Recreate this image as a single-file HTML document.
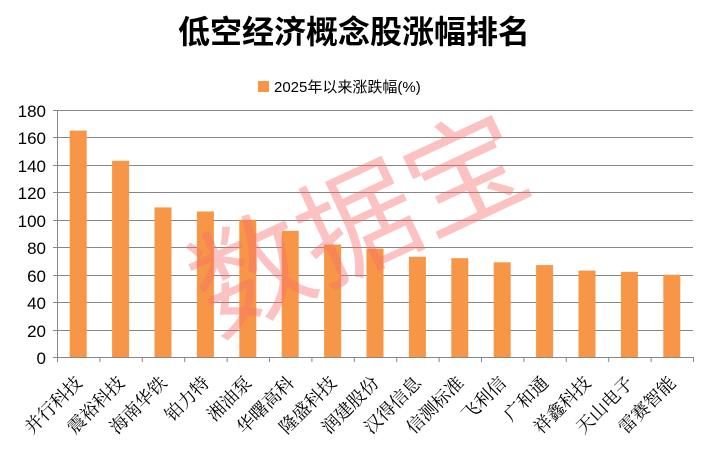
<!DOCTYPE html>
<html><head><meta charset="utf-8"><style>
body{margin:0;background:#fff;}
svg{display:block}
</style></head><body>
<svg width="708" height="460" xmlns="http://www.w3.org/2000/svg">
<text x="354" y="43" text-anchor="middle" font-family="'Liberation Sans','Noto Sans CJK SC',sans-serif" font-size="32" font-weight="bold" fill="#000">低空经济概念股涨幅排名</text>
<rect x="258" y="81" width="11" height="11" fill="#F79646"/>
<text x="274" y="92" font-family="'Liberation Sans','Noto Sans CJK SC',sans-serif" font-size="15" fill="#000">2025年以来涨跌幅(%)</text>
<g stroke="#868686" stroke-width="1">
<line x1="53" y1="110.5" x2="693" y2="110.5"/>
<line x1="53" y1="137.5" x2="693" y2="137.5"/>
<line x1="53" y1="165.5" x2="693" y2="165.5"/>
<line x1="53" y1="192.5" x2="693" y2="192.5"/>
<line x1="53" y1="220.5" x2="693" y2="220.5"/>
<line x1="53" y1="247.5" x2="693" y2="247.5"/>
<line x1="53" y1="275.5" x2="693" y2="275.5"/>
<line x1="53" y1="302.5" x2="693" y2="302.5"/>
<line x1="53" y1="330.5" x2="693" y2="330.5"/>
<line x1="53" y1="357.5" x2="693" y2="357.5"/>
<line x1="57.5" y1="110" x2="57.5" y2="362"/>
<line x1="99.9" y1="357" x2="99.9" y2="362"/><line x1="142.3" y1="357" x2="142.3" y2="362"/><line x1="184.7" y1="357" x2="184.7" y2="362"/><line x1="227.1" y1="357" x2="227.1" y2="362"/><line x1="269.5" y1="357" x2="269.5" y2="362"/><line x1="311.9" y1="357" x2="311.9" y2="362"/><line x1="354.3" y1="357" x2="354.3" y2="362"/><line x1="396.7" y1="357" x2="396.7" y2="362"/><line x1="439.1" y1="357" x2="439.1" y2="362"/><line x1="481.5" y1="357" x2="481.5" y2="362"/><line x1="523.9" y1="357" x2="523.9" y2="362"/><line x1="566.3" y1="357" x2="566.3" y2="362"/><line x1="608.7" y1="357" x2="608.7" y2="362"/><line x1="651.1" y1="357" x2="651.1" y2="362"/><line x1="693.5" y1="357" x2="693.5" y2="362"/>
</g>
<g font-family="'Liberation Sans',sans-serif" font-size="17" fill="#000" text-anchor="end">
<text x="46" y="117">180</text><text x="46" y="144">160</text><text x="46" y="172">140</text><text x="46" y="199">120</text><text x="46" y="227">100</text><text x="46" y="254">80</text><text x="46" y="282">60</text><text x="46" y="309">40</text><text x="46" y="337">20</text><text x="46" y="364">0</text>
</g>
<g fill="#F79646">
<rect x="69.7" y="130.6" width="17" height="226.4"/>
<rect x="112.1" y="160.8" width="17" height="196.2"/>
<rect x="154.5" y="207.4" width="17" height="149.6"/>
<rect x="196.9" y="211.5" width="17" height="145.5"/>
<rect x="239.3" y="219.8" width="17" height="137.2"/>
<rect x="281.7" y="230.8" width="17" height="126.2"/>
<rect x="324.1" y="244.5" width="17" height="112.5"/>
<rect x="366.5" y="248.6" width="17" height="108.4"/>
<rect x="408.9" y="256.8" width="17" height="100.2"/>
<rect x="451.3" y="258.2" width="17" height="98.8"/>
<rect x="493.7" y="262.3" width="17" height="94.7"/>
<rect x="536.1" y="265.1" width="17" height="91.9"/>
<rect x="578.5" y="270.6" width="17" height="86.4"/>
<rect x="620.9" y="271.9" width="17" height="85.1"/>
<rect x="663.3" y="274.7" width="17" height="82.3"/>
</g>
<g font-family="'Liberation Serif','Noto Serif CJK SC',serif" font-size="18" fill="#000" text-anchor="end">
<text transform="translate(83.2,384) rotate(-45)">并行科技</text>
<text transform="translate(125.6,384) rotate(-45)">震裕科技</text>
<text transform="translate(168,384) rotate(-45)">海南华铁</text>
<text transform="translate(210.4,384) rotate(-45)">铂力特</text>
<text transform="translate(252.8,384) rotate(-45)">湘油泵</text>
<text transform="translate(295.2,384) rotate(-45)">华曙高科</text>
<text transform="translate(337.6,384) rotate(-45)">隆盛科技</text>
<text transform="translate(380,384) rotate(-45)">润建股份</text>
<text transform="translate(422.4,384) rotate(-45)">汉得信息</text>
<text transform="translate(464.8,384) rotate(-45)">信测标准</text>
<text transform="translate(507.2,384) rotate(-45)">飞利信</text>
<text transform="translate(549.6,384) rotate(-45)">广和通</text>
<text transform="translate(592,384) rotate(-45)">祥鑫科技</text>
<text transform="translate(634.4,384) rotate(-45)">天山电子</text>
<text transform="translate(676.8,384) rotate(-45)">雷赛智能</text>
</g>
<text x="0" y="0" transform="translate(376,262) rotate(-25)" text-anchor="middle" font-family="'Liberation Sans','Noto Sans CJK SC',sans-serif" font-size="118" fill="rgba(248,110,110,0.42)">数据宝</text>
</svg>
</body></html>
